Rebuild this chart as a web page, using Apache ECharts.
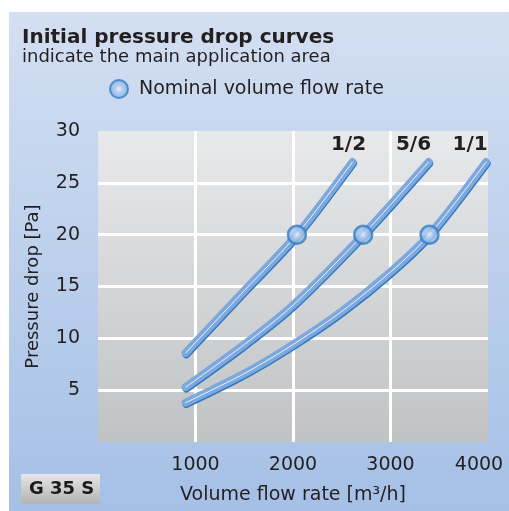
<!DOCTYPE html>
<html>
<head>
<meta charset="UTF-8">
<title>Initial pressure drop curves</title>
<style>
  html, body { margin: 0; padding: 0; background: #fff; }
  #chart { width: 509px; height: 511px; }
</style>
<script src="https://cdn.jsdelivr.net/npm/echarts@6/dist/echarts.min.js"></script>
</head>
<body>
<div id="chart"></div>
<script>
// values
var xTicks = [0, 1000, 2000, 3000, 4000];
var yTicks = [0, 5, 10, 15, 20, 25, 30];

var flowHalf = [900, 1500, 2040, 2610];
var dropHalf = [8.6, 14.6, 20.0, 27.0];

var flowFive = [900, 1500, 2000, 2720, 3390];
var dropFive = [5.3, 9.4, 13.2, 20.0, 27.0];

var flowFull = [900, 1500, 2000, 2500, 3000, 3400, 3980];
var dropFull = [3.8, 6.6, 9.4, 12.6, 16.4, 20.0, 27.0];

var curveNames = ['1/2', '5/6', '1/1'];
var nominalFlow = [2040, 2720, 3400];
var nominalDrop = [20, 20, 20];

var FONT = 'DejaVu Sans';
var TXT = '#231f20';

function pairs(xs, ys) {
  return xs.map(function (x, i) { return [x, ys[i]]; });
}

function curve(xs, ys, tag, shift) {
  return [{
    type: 'line', smooth: 0.3, symbol: 'none', data: pairs(xs, ys),
    lineStyle: {
      width: 8, color: '#7ca8de', cap: 'round',
      shadowColor: '#2f79c2', shadowBlur: 0, shadowOffsetX: 0.6, shadowOffsetY: 1.4
    },
    endLabel: {
      show: true, formatter: tag, align: 'center', verticalAlign: 'bottom',
      offset: [shift, -7], distance: 0,
      fontFamily: FONT, fontWeight: 'bold', fontSize: 20, color: TXT
    },
    z: 3
  }, {
    type: 'line', smooth: 0.3, symbol: 'none', data: pairs(xs, ys),
    lineStyle: { width: 1, color: 'rgba(255,255,255,0.85)', cap: 'round' },
    silent: true, z: 4
  }];
}

var chart = echarts.init(document.getElementById('chart'));

var series = [].concat(
  curve(flowHalf, dropHalf, curveNames[0], -4),
  curve(flowFive, dropFive, curveNames[1], -15),
  curve(flowFull, dropFull, curveNames[2], -16)
);
series.push({
  name: 'Nominal volume flow rate',
  type: 'scatter', symbol: 'circle', symbolSize: 18, z: 6,
  data: pairs(nominalFlow, nominalDrop),
  itemStyle: {
    color: new echarts.graphic.RadialGradient(0.5, 0.5, 0.5, [
      { offset: 0, color: '#f2f6fc' },
      { offset: 0.35, color: '#b4cdee' },
      { offset: 1, color: '#78a5dd' }
    ]),
    borderColor: '#2f7fc4', borderWidth: 2.5
  }
});

var option = {
  animation: false,
  graphic: [{
    type: 'rect', left: 9, top: 12, z: -10,
    shape: { width: 500, height: 499 },
    style: {
      fill: new echarts.graphic.LinearGradient(0, 0, 0, 1, [
        { offset: 0, color: '#d3dff2' },
        { offset: 1, color: '#a5c0e6' }
      ])
    }
  }, {
    type: 'rect', left: 21, top: 474, z: 10,
    shape: { width: 79, height: 30 },
    style: {
      fill: new echarts.graphic.LinearGradient(0, 0, 0, 1, [
        { offset: 0, color: '#e6e6e6' },
        { offset: 1, color: '#b3b3b3' }
      ])
    }
  }, {
    type: 'text', left: 29, top: 480, z: 11,
    style: { text: 'G 35 S', font: 'bold 18px ' + FONT, fill: '#1a1a1a' }
  }],
  title: {
    text: 'Initial pressure drop curves',
    subtext: 'indicate the main application area',
    left: 17, top: 23, itemGap: 0,
    textStyle: { fontFamily: FONT, fontWeight: 'bold', fontSize: 20, color: TXT },
    subtextStyle: { fontFamily: FONT, fontSize: 18, color: TXT }
  },
  legend: {
    left: 104, top: 74, itemWidth: 18, itemHeight: 18, itemGap: 8,
    data: [{ name: 'Nominal volume flow rate', icon: 'circle' }],
    textStyle: { fontFamily: FONT, fontSize: 19, color: TXT, padding: [0, 0, 0, 6] }
  },
  grid: {
    left: 98, top: 131, right: 21, bottom: 69,
    show: true, borderWidth: 0,
    backgroundColor: new echarts.graphic.LinearGradient(0, 0, 0, 1, [
      { offset: 0, color: '#e8e9eb' },
      { offset: 1, color: '#c1c2c4' }
    ])
  },
  xAxis: {
    type: 'value', min: xTicks[0], max: xTicks[xTicks.length - 1], interval: 1000,
    name: 'Volume flow rate [m³/h]', nameLocation: 'middle', nameGap: 44,
    nameTextStyle: { fontFamily: FONT, fontSize: 19, color: TXT },
    axisLine: { show: false }, axisTick: { show: false },
    axisLabel: {
      margin: 14, fontFamily: FONT, fontSize: 19, color: TXT,
      formatter: function (v) {
        if (v === 0) return '';
        if (v === xTicks[xTicks.length - 1]) return '{last|' + v + '}';
        return String(v);
      },
      rich: { last: { fontFamily: FONT, fontSize: 19, color: TXT, padding: [0, 18, 0, 0] } }
    },
    splitLine: {
      show: true,
      lineStyle: { width: 3, color: ['transparent', '#fff', '#fff', '#fff', 'transparent'] }
    }
  },
  yAxis: {
    type: 'value', min: yTicks[0], max: yTicks[yTicks.length - 1], interval: 5,
    name: 'Pressure drop [Pa]', nameLocation: 'middle', nameGap: 56, nameRotate: 90,
    nameTextStyle: { fontFamily: FONT, fontSize: 18, color: TXT },
    axisLine: { show: false }, axisTick: { show: false },
    axisLabel: {
      margin: 18, fontFamily: FONT, fontSize: 19, color: TXT,
      formatter: function (v) { return v === 0 ? '' : String(v); }
    },
    splitLine: {
      show: true,
      lineStyle: { width: 3, color: ['transparent', '#fff', '#fff', '#fff', '#fff', '#fff', 'transparent'] }
    }
  },
  series: series
};

chart.setOption(option);
</script>
</body>
</html>
